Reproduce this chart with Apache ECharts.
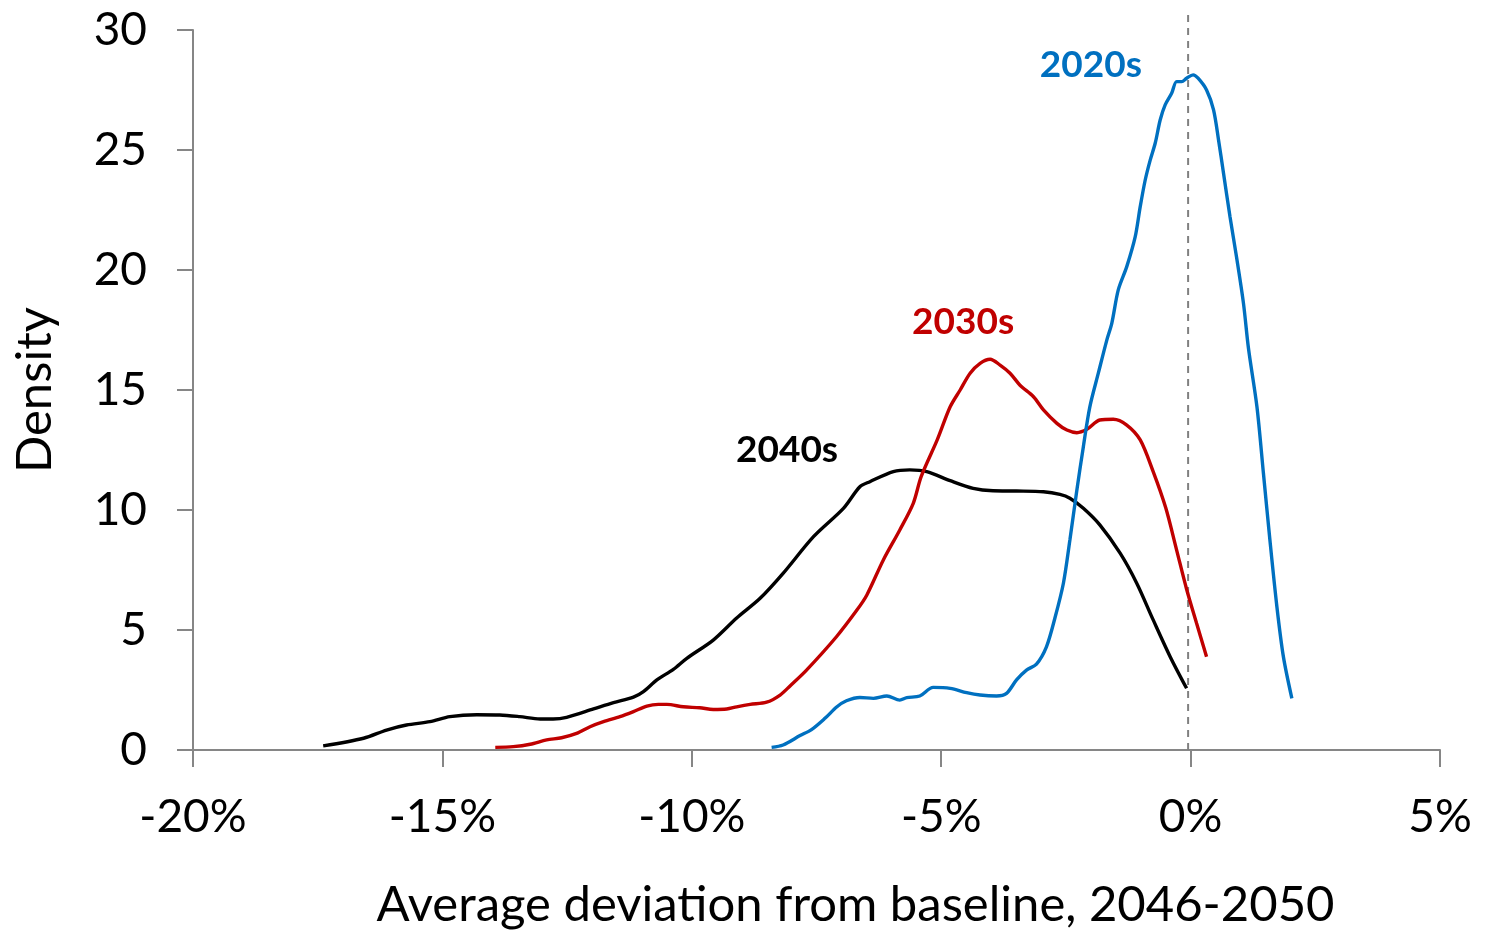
<!DOCTYPE html>
<html>
<head>
<meta charset="utf-8">
<script src="https://cdn.jsdelivr.net/npm/echarts@6/dist/echarts.min.js"></script>
<style>
html,body{margin:0;padding:0;background:#fff;}
#chart{width:1485px;height:932px;}
</style>
</head>
<body>
<div id="chart"></div>
<script>
// Density curves: [deviation %, density]
const series2020s = [[-8.4,0.11],[-8.17,0.21],[-7.83,0.6],[-7.6,0.85],[-7.33,1.32],[-7.09,1.8],[-6.9,2.05],[-6.63,2.19],[-6.36,2.15],[-6.09,2.25],[-5.83,2.08],[-5.69,2.18],[-5.43,2.25],[-5.16,2.61],[-4.82,2.57],[-4.49,2.39],[-4.22,2.29],[-3.89,2.25],[-3.69,2.36],[-3.49,2.92],[-3.29,3.33],[-3.09,3.58],[-2.89,4.3],[-2.72,5.5],[-2.55,6.95],[-2.42,8.75],[-2.28,10.83],[-2.15,12.64],[-2.02,14.3],[-1.85,15.7],[-1.68,17.08],[-1.58,17.78],[-1.45,19.17],[-1.28,20.14],[-1.11,21.39],[-1.01,22.64],[-0.91,23.75],[-0.81,24.58],[-0.71,25.28],[-0.61,26.25],[-0.51,26.88],[-0.38,27.36],[-0.28,27.85],[-0.18,27.85],[-0.08,27.99],[0.05,28.13],[0.15,27.99],[0.32,27.5],[0.46,26.67],[0.56,25.42],[0.66,24.03],[0.79,22.22],[0.92,20.55],[1.06,18.61],[1.16,16.74],[1.33,14.3],[1.46,11.53],[1.59,8.75],[1.73,5.97],[1.86,3.89],[2.03,2.15]];
const series2030s = [[-13.94,0.11],[-13.58,0.14],[-13.24,0.24],[-12.91,0.42],[-12.61,0.51],[-12.31,0.69],[-12.04,0.97],[-11.77,1.18],[-11.44,1.39],[-11.17,1.6],[-10.9,1.83],[-10.67,1.9],[-10.5,1.9],[-10.17,1.8],[-9.84,1.76],[-9.57,1.69],[-9.3,1.71],[-9.1,1.8],[-8.83,1.9],[-8.5,1.99],[-8.23,2.29],[-8.03,2.67],[-7.7,3.33],[-7.1,4.72],[-6.69,5.83],[-6.49,6.46],[-6.16,7.92],[-5.83,9.17],[-5.56,10.28],[-5.4,11.4],[-5.08,12.92],[-4.82,14.3],[-4.62,15.0],[-4.42,15.7],[-4.22,16.11],[-4.02,16.28],[-3.82,16.04],[-3.62,15.7],[-3.42,15.2],[-3.15,14.72],[-2.95,14.17],[-2.68,13.61],[-2.48,13.33],[-2.28,13.22],[-2.08,13.36],[-1.82,13.75],[-1.55,13.78],[-1.28,13.54],[-1.01,12.92],[-0.75,11.6],[-0.5,10.1],[-0.28,8.33],[-0.08,6.7],[0.12,5.28],[0.32,3.89]];
const series2040s = [[-17.39,0.17],[-16.58,0.49],[-16.12,0.83],[-15.72,1.04],[-15.25,1.18],[-14.85,1.39],[-14.31,1.47],[-13.85,1.46],[-13.45,1.39],[-13.04,1.29],[-12.78,1.29],[-12.51,1.36],[-11.97,1.71],[-11.57,1.97],[-11.17,2.2],[-10.97,2.43],[-10.7,2.92],[-10.37,3.36],[-10.1,3.82],[-9.57,4.58],[-9.1,5.5],[-8.63,6.32],[-8.17,7.36],[-7.56,8.89],[-6.96,10.07],[-6.63,10.97],[-6.43,11.18],[-5.96,11.6],[-5.63,11.67],[-5.29,11.6],[-4.82,11.22],[-4.36,10.9],[-3.96,10.8],[-3.49,10.79],[-2.95,10.76],[-2.62,10.65],[-2.42,10.49],[-2.15,10.07],[-1.82,9.38],[-1.41,8.19],[-1.08,6.95],[-0.75,5.42],[-0.41,3.89],[-0.08,2.57]];
const referenceLine = [[-0.05,0],[-0.05,30.8]];
const labelNames = ['2020s','2030s','2040s'];
const labelPositions = [[-2.0,28.54],[-4.56,17.83],[-8.09,12.5]];
const xTicks = {min:-20, max:5, interval:5};
const yTicks = {min:0, max:30, interval:5};

const colors = ['#0070C0','#C00000','#000000'];
const FONT = 'Lato';
const chart = echarts.init(document.getElementById('chart'));

function curve(data, i) {
  return {
    type:'line', data:data, showSymbol:false, symbol:'none', smooth:0.3,
    lineStyle:{color:colors[i], width:3.4}, z:3 + (2 - i),
    markPoint:{
      symbol:'circle', symbolSize:1, itemStyle:{color:'rgba(0,0,0,0)'}, silent:true,
      data:[{coord:labelPositions[i], value:labelNames[i]}],
      label:{show:true, position:'inside', formatter:labelNames[i], color:colors[i],
             fontFamily:FONT, fontWeight:'bold', fontSize:37}
    }
  };
}

chart.setOption({
  animation:false,
  grid:{left:193, right:45, top:30, bottom:182, containLabel:false, outerBoundsMode:'none'},
  xAxis:{
    type:'value', min:xTicks.min, max:xTicks.max, interval:xTicks.interval,
    name:'Average deviation from baseline, 2046-2050', nameLocation:'middle', nameGap:131,
    nameTextStyle:{fontFamily:FONT, fontSize:49, color:'#000', padding:[0,0,0,78]},
    axisLine:{show:true, onZero:false, lineStyle:{color:'#868686', width:2}},
    axisTick:{show:true, length:17, lineStyle:{color:'#868686', width:2}},
    axisLabel:{margin:44, fontFamily:FONT, fontSize:46, color:'#000', formatter:v=>v+'%'},
    splitLine:{show:false}
  },
  yAxis:{
    type:'value', min:yTicks.min, max:yTicks.max, interval:yTicks.interval,
    name:'Density', nameLocation:'middle', nameGap:133, nameRotate:90,
    nameTextStyle:{fontFamily:FONT, fontSize:49, color:'#000'},
    axisLine:{show:true, onZero:false, lineStyle:{color:'#868686', width:2}},
    axisTick:{show:true, length:16, lineStyle:{color:'#868686', width:2}},
    axisLabel:{margin:46, fontFamily:FONT, fontSize:46, color:'#000'},
    splitLine:{show:false}
  },
  series:[
    {type:'line', data:referenceLine, symbol:'none', clip:false, silent:true, z:1,
     lineStyle:{color:'#808080', width:2, type:[7,6]}},
    curve(series2020s,0),
    curve(series2030s,1),
    curve(series2040s,2)
  ]
});
</script>
</body>
</html>
